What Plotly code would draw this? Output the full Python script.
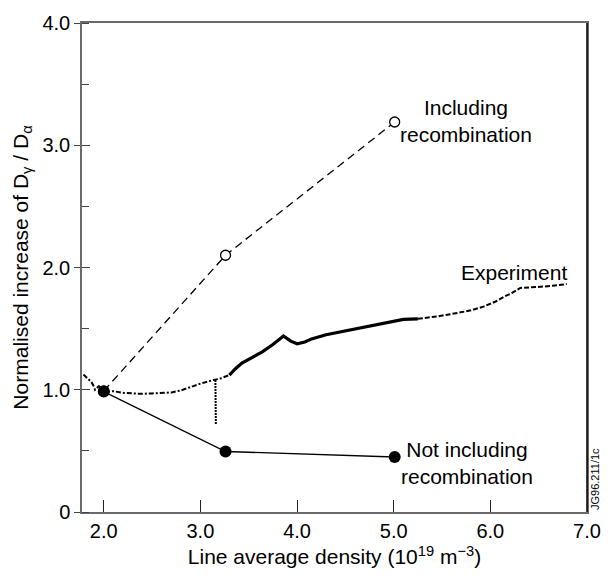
import plotly.graph_objects as go

# ---- data ----
incl_x = [2.0, 3.26, 5.01]
incl_y = [0.99, 2.10, 3.19]

notincl_x = [2.0, 3.26, 5.01]
notincl_y = [0.985, 0.495, 0.45]

exp_low_x = [1.79, 1.84, 1.87, 1.89, 1.91, 1.95, 2.0, 2.05, 2.10, 2.2, 2.37, 2.5, 2.70, 2.80, 2.89, 3.0, 3.125, 3.2, 3.30]
exp_low_y = [1.125, 1.09, 1.065, 1.04, 1.0, 1.03, 0.99, 0.985, 0.988, 0.975, 0.967, 0.97, 0.978, 0.995, 1.02, 1.05, 1.078, 1.09, 1.12]

exp_spike_x = [3.155, 3.158, 3.16]
exp_spike_y = [1.08, 0.9, 0.716]

exp_mid_x = [3.30, 3.36, 3.43, 3.50, 3.64, 3.75, 3.86, 3.93, 4.0, 4.08, 4.15, 4.3, 4.49, 4.65, 4.84, 5.0, 5.10, 5.25]
exp_mid_y = [1.12, 1.17, 1.218, 1.25, 1.31, 1.37, 1.44, 1.40, 1.376, 1.39, 1.416, 1.45, 1.48, 1.51, 1.535, 1.56, 1.575, 1.58]

exp_high_x = [5.25, 5.45, 5.66, 5.80, 5.93, 6.05, 6.14, 6.22, 6.31, 6.45, 6.55, 6.70, 6.79]
exp_high_y = [1.58, 1.60, 1.628, 1.65, 1.68, 1.72, 1.76, 1.79, 1.833, 1.838, 1.844, 1.855, 1.865]

x_ticks = [2.0, 3.0, 4.0, 5.0, 6.0, 7.0]
x_ticktext = ["2.0", "3.0", "4.0", "5.0", "6.0", "7.0"]
y_ticks = [0, 1.0, 2.0, 3.0, 4.0]
y_ticktext = ["0", "1.0", "2.0", "3.0", "4.0"]

FONT = "Liberation Sans, Arial, Helvetica, sans-serif"
BLACK = "#000000"

fig = go.Figure()

# Experiment curve (noisy trace)
fig.add_trace(go.Scatter(x=exp_low_x, y=exp_low_y, mode="lines",
                         line=dict(color=BLACK, width=2, dash="5px,2px,2px,2px"),
                         hoverinfo="skip", showlegend=False))
fig.add_trace(go.Scatter(x=exp_spike_x, y=exp_spike_y, mode="lines",
                         line=dict(color=BLACK, width=2, dash="2px,1px"),
                         hoverinfo="skip", showlegend=False))
fig.add_trace(go.Scatter(x=exp_mid_x, y=exp_mid_y, mode="lines",
                         line=dict(color=BLACK, width=3.2),
                         hoverinfo="skip", showlegend=False))
fig.add_trace(go.Scatter(x=exp_high_x, y=exp_high_y, mode="lines",
                         line=dict(color=BLACK, width=2, dash="5px,2px"),
                         hoverinfo="skip", showlegend=False))

# Including recombination (dashed, open circles)
fig.add_trace(go.Scatter(x=incl_x, y=incl_y, mode="lines+markers",
                         line=dict(color=BLACK, width=1.3, dash="8px,5px"),
                         marker=dict(symbol="circle", size=10, color="white",
                                     line=dict(color=BLACK, width=1.3)),
                         showlegend=False))

# Not including recombination (solid, filled circles)
fig.add_trace(go.Scatter(x=notincl_x, y=notincl_y, mode="lines+markers",
                         line=dict(color=BLACK, width=1.3),
                         marker=dict(symbol="circle", size=12, color=BLACK),
                         showlegend=False))

axis_line = "#6a6a6a"

fig.update_layout(
    width=613, height=577,
    margin=dict(l=82, r=21, t=14, b=58),
    paper_bgcolor="white", plot_bgcolor="white",
    font=dict(family=FONT, size=20, color=BLACK),
    xaxis=dict(range=[1.775, 7.0], tickvals=x_ticks, ticktext=x_ticktext,
               ticks="inside", ticklen=12, tickwidth=1.2, tickcolor="#222",
               showline=True, linecolor=axis_line, linewidth=1.5, mirror=True,
               showgrid=False, zeroline=False,
               tickfont=dict(size=20),
               title=dict(text="Line average density (10<sup>19</sup> m<sup>\u22123</sup>)",
                          font=dict(size=21), standoff=9)),
    yaxis=dict(range=[0, 4.0], tickvals=y_ticks, ticktext=y_ticktext,
               ticks="outside", ticklen=6, tickwidth=1.2, tickcolor="#444",
               minor=dict(dtick=0.5, ticks="inside", ticklen=7, tickcolor="#444", tickwidth=1.2),
               showline=True, linecolor=axis_line, linewidth=1.5, mirror=True,
               showgrid=False, zeroline=False,
               tickfont=dict(size=20),
               title=dict(text="Normalised increase of D<sub>\u03b3</sub> / D<sub>\u03b1</sub>",
                          font=dict(size=21), standoff=8)),
    yaxis2=dict(range=[0, 4.0], overlaying="y", side="left", tickvals=y_ticks,
                showticklabels=False, ticks="inside", ticklen=8, tickwidth=1.2,
                tickcolor="#444", showline=False, showgrid=False, zeroline=False),
)

# dark right frame edge
fig.add_shape(type="line", xref="paper", yref="paper", x0=1, x1=1, y0=0, y1=1,
              line=dict(color=BLACK, width=1.5))

ann_font = dict(family=FONT, size=21, color=BLACK)
fig.add_annotation(x=5.75, y=3.2, xref="x", yref="y", text="Including<br>recombination",
                   showarrow=False, font=ann_font, align="center")
fig.add_annotation(x=6.81, y=1.957, xref="x", yref="y", text="Experiment",
                   showarrow=False, font=ann_font, xanchor="right")
fig.add_annotation(x=5.76, y=0.40, xref="x", yref="y", text="Not including<br>recombination",
                   showarrow=False, font=ann_font, align="center")
fig.add_annotation(x=1, y=0, xref="paper", yref="paper", xshift=8, text="JG96.211/1c",
                   showarrow=False, textangle=-90, xanchor="center", yanchor="bottom",
                   font=dict(family=FONT, size=11, color=BLACK))

# dummy trace to activate yaxis2
fig.add_trace(go.Scatter(x=[None], y=[None], yaxis="y2", showlegend=False, hoverinfo="skip"))

fig.write_html("out.html")
